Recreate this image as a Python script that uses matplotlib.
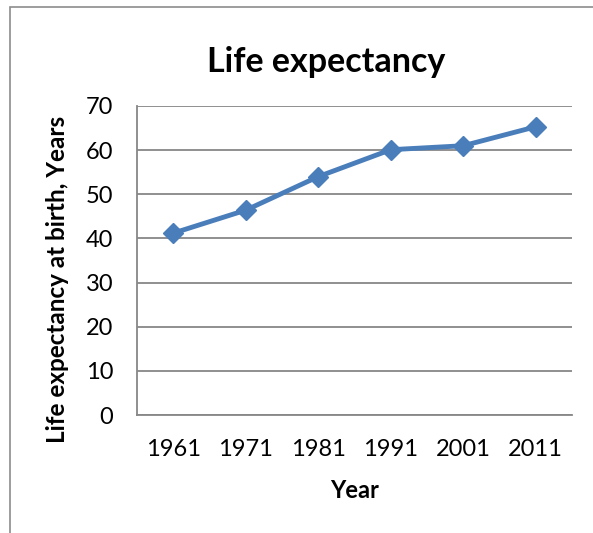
import matplotlib.pyplot as plt
from matplotlib.patches import Rectangle

# --- data ---
years = ['1961', '1971', '1981', '1991', '2001', '2011']
life_expectancy = [41.2, 46.4, 54.0, 60.1, 61.0, 65.3]
y_ticks = [0, 10, 20, 30, 40, 50, 60, 70]

FONT = 'Lato'
LINE_BLUE = '#4A7EBB'
GRID_GRAY = '#878787'

fig = plt.figure(figsize=(5.93, 5.33), dpi=100)

# chart area border (Excel style, runs off right/bottom edges)
fig.patches.append(Rectangle((10 / 593, -0.05), 1.2, 1 - 7 / 533 + 0.05,
                             transform=fig.transFigure, fill=False,
                             edgecolor='#8c8c8c', linewidth=1.2))

ax = fig.add_axes([137 / 593, 1 - 415 / 533, 435 / 593, 309 / 533])

x = list(range(len(years)))
ax.plot(x, life_expectancy, color=LINE_BLUE, linewidth=3.5,
        marker='D', markersize=10, markeredgecolor=LINE_BLUE,
        solid_joinstyle='round', zorder=3)

ax.set_xlim(-0.5, len(years) - 0.5)
ax.set_ylim(0, 70)
ax.set_yticks(y_ticks)
ax.set_xticks(x)
ax.set_xticklabels(years)

ax.yaxis.grid(True, color=GRID_GRAY, linewidth=1.3)
ax.set_axisbelow(True)
for side in ['top', 'right']:
    ax.spines[side].set_visible(False)
ax.spines['left'].set_color(GRID_GRAY)
ax.spines['bottom'].set_color(GRID_GRAY)
ax.spines['left'].set_linewidth(1.3)
ax.spines['bottom'].set_linewidth(1.3)

ax.tick_params(axis='both', length=0, labelsize=17, labelcolor='black')
ax.tick_params(axis='y', pad=17)
ax.tick_params(axis='x', pad=17)
for lbl in ax.get_xticklabels() + ax.get_yticklabels():
    lbl.set_family(FONT)

ax.set_xlabel('Year', fontsize=17, fontweight='bold', family=FONT, labelpad=14)
ax.set_ylabel('Life expectancy at birth, Years', fontsize=17.5, fontweight='bold',
              family=FONT)
# the axis title sits a little below the plot's middle in the reference
ax.yaxis.set_label_coords(-0.157, 0.44)

fig.text(326 / 593, 1 - 62 / 533, 'Life expectancy', ha='center', va='center',
         fontsize=24.5, fontweight='bold', family=FONT)

fig.savefig('out.png', dpi=100)
